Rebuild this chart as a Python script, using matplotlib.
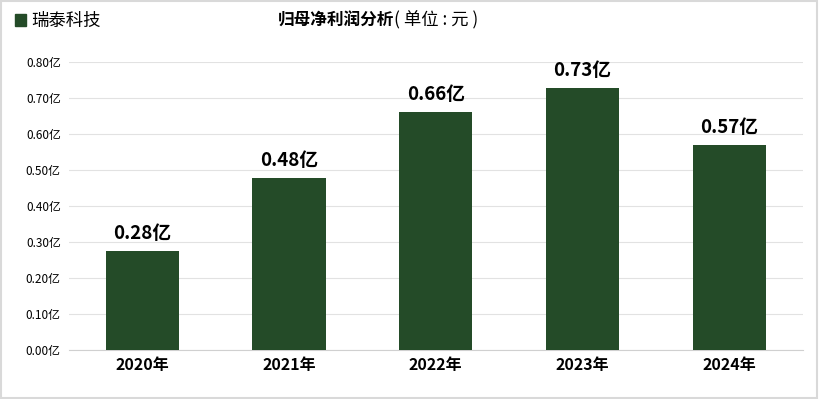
import matplotlib.pyplot as plt
from matplotlib.patches import Rectangle

plt.rcParams['font.family'] = ['Noto Sans CJK SC', 'DejaVu Sans']

years = ['2020年', '2021年', '2022年', '2023年', '2024年']
profit = [0.275, 0.478, 0.661, 0.728, 0.569]
labels = ['0.28亿', '0.48亿', '0.66亿', '0.73亿', '0.57亿']
yticks = [0.0, 0.1, 0.2, 0.3, 0.4, 0.5, 0.6, 0.7, 0.8]

green = '#244b28'

fig = plt.figure(figsize=(8.19, 3.99), dpi=100)
ax = fig.add_axes([0.0842, 0.1228, 0.8958, 0.7218])

x = range(len(years))
ax.bar(x, profit, width=0.5, color=green, zorder=3)
for i, v in enumerate(profit):
    ax.text(i, v + 0.022, labels[i], ha='center', va='bottom',
            fontsize=13.5, fontweight='bold', color='black')

ax.set_xlim(-0.5, len(years) - 0.5)
ax.set_ylim(0, 0.8)
ax.set_yticks(yticks)
ax.set_yticklabels(['%.2f亿' % t for t in yticks], fontsize=8.5)
ax.set_xticks(list(x))
ax.set_xticklabels(years, fontsize=11.5, fontweight='bold')
ax.grid(axis='y', color='#e2e2e2', linewidth=0.8, zorder=0)
ax.tick_params(axis='y', length=0, pad=6)
ax.tick_params(axis='x', length=0, pad=5)
for s in ['top', 'right', 'left']:
    ax.spines[s].set_visible(False)
ax.spines['bottom'].set_color('#d0d0d0')

# title and legend
t1 = fig.text(0.339, 0.948, '归母净利润分析', ha='left', va='center',
              fontsize=12, fontweight='bold')
fig.text(0.481, 0.948, '( 单位 : 元 )', ha='left', va='center', fontsize=12.5)
fig.patches.append(Rectangle((0.0185, 0.935), 0.0135, 0.031,
                             transform=fig.transFigure, color=green))
fig.text(0.038, 0.947, '瑞泰科技', ha='left', va='center', fontsize=12.5)

# outer frame
fig.patches.append(Rectangle((0.001, 0.002), 0.997, 0.996, transform=fig.transFigure,
                             fill=False, edgecolor='#d9d9d9', linewidth=1.5))

fig.savefig('out.png', dpi=100)
